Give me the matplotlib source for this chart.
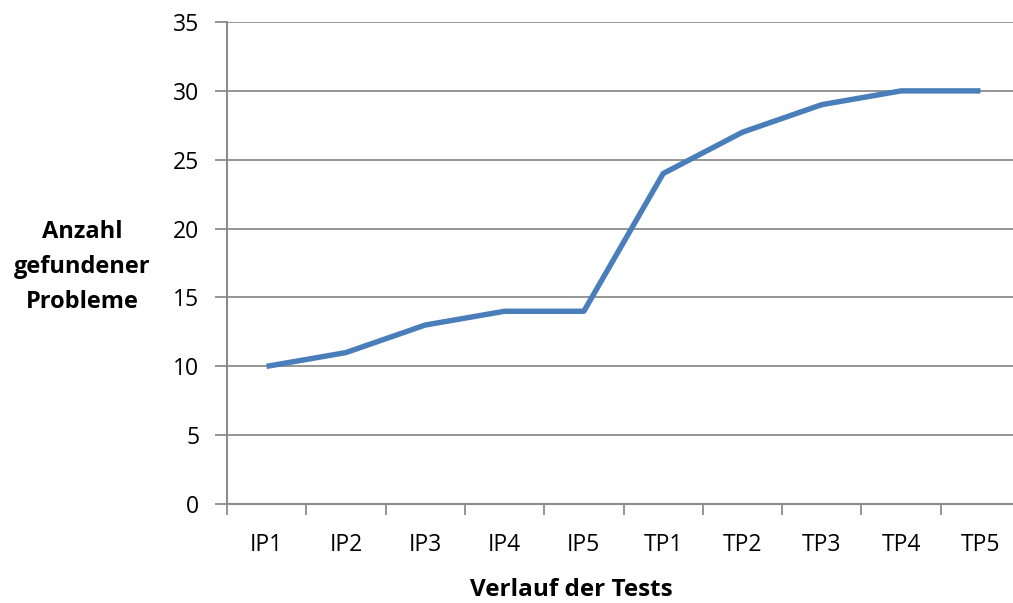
import matplotlib.pyplot as plt

# Testverlauf: Anzahl gefundener Probleme je Test
tests = ['IP1', 'IP2', 'IP3', 'IP4', 'IP5', 'TP1', 'TP2', 'TP3', 'TP4', 'TP5']
probleme = [10, 11, 13, 14, 14, 24, 27, 29, 30, 30]
y_ticks = [0, 5, 10, 15, 20, 25, 30, 35]

plt.rcParams['font.family'] = ['Open Sans', 'DejaVu Sans']

fig = plt.figure(figsize=(10.13, 6.03), dpi=100)
ax = fig.add_axes([0.224, 0.164, 0.783, 0.7995])

x = range(len(tests))
ax.plot(x, probleme, color='#4a7ebb', linewidth=3.9, solid_capstyle='butt', zorder=3)

ax.set_xlim(-0.5, len(tests) - 0.5)
ax.set_ylim(0, 35)
ax.set_yticks(y_ticks)
ax.grid(axis='y', color='#8c8c8c', linewidth=1.3)
ax.set_axisbelow(True)

# Kategorie-Ticks zwischen den Punkten, Beschriftung mittig
ax.set_xticks([i - 0.5 for i in range(len(tests) + 1)])
ax.set_xticklabels([])
ax.set_xticks(list(x), minor=True)
ax.set_xticklabels(tests, minor=True, fontsize=16.5)
ax.tick_params(axis='x', which='major', length=8, width=1.3, color='#8c8c8c', direction='out')
ax.tick_params(axis='x', which='minor', length=0, pad=21)
ax.tick_params(axis='y', length=9, width=1.3, color='#8c8c8c', labelsize=16.5, pad=11)

for side in ['top', 'right']:
    ax.spines[side].set_visible(False)
for side in ['left', 'bottom']:
    ax.spines[side].set_color('#8c8c8c')
    ax.spines[side].set_linewidth(1.5)

fig.text(0.564, 0.022, 'Verlauf der Tests', ha='center', va='center',
         fontsize=17.5, fontweight='bold')
fig.text(0.081, 0.557, 'Anzahl\ngefundener\nProbleme', ha='center', va='center',
         fontsize=17, fontweight='bold', linespacing=1.6)

fig.savefig('out.png', dpi=100)
